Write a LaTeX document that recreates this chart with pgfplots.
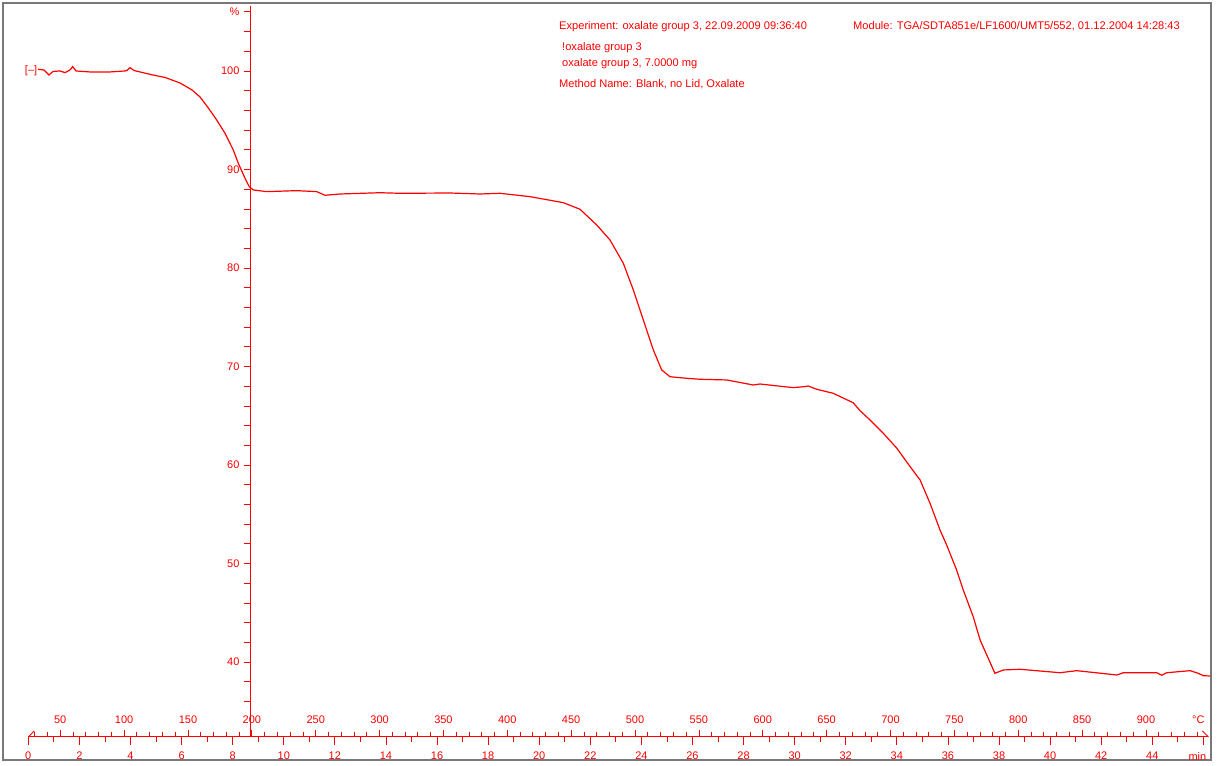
\documentclass[border=0pt]{standalone}
\usepackage{fontspec}
\setmainfont{Liberation Sans}
\usepackage{pgfplots}
\usepackage{pgfplotstable}
\pgfplotsset{compat=1.18}
\definecolor{tgared}{RGB}{255,0,0}
\definecolor{framegray}{RGB}{120,120,120}

% TGA curve: time (min) vs. weight (%)
\pgfplotstableread{
t w
0.380 100.17
0.615 100.10
0.810 99.59
0.967 99.95
1.241 100.00
1.437 99.83
1.632 100.10
1.738 100.44
1.867 100.00
2.415 99.90
3.198 99.90
3.785 100.00
3.864 100.05
3.981 100.34
4.138 100.05
4.373 99.90
4.882 99.59
5.352 99.34
5.939 98.78
6.409 98.07
6.722 97.36
7.035 96.29
7.374 95.03
7.700 93.68
8.024 91.98
8.221 90.63
8.483 89.11
8.651 88.25
8.808 87.92
9.332 87.75
10.507 87.85
11.290 87.75
11.615 87.38
12.203 87.51
13.769 87.64
14.551 87.58
16.508 87.61
17.683 87.51
18.466 87.58
19.640 87.24
20.944 86.63
21.597 85.96
22.251 84.37
22.772 82.84
23.292 80.48
23.684 77.77
24.075 74.72
24.467 71.68
24.796 69.64
25.121 68.96
25.775 68.80
26.296 68.70
27.340 68.63
28.381 68.12
28.644 68.22
29.948 67.85
30.448 67.97
30.530 68.02
30.857 67.69
31.507 67.28
32.290 66.32
32.560 65.51
32.950 64.57
33.470 63.22
34.000 61.70
34.520 59.83
34.910 58.48
35.300 56.11
35.690 53.40
35.950 51.88
36.340 49.34
36.600 47.31
36.990 44.60
37.260 42.23
37.840 38.85
38.170 39.19
38.820 39.26
40.390 38.91
41.040 39.12
42.610 38.68
42.870 38.91
44.170 38.91
44.370 38.65
44.570 38.91
45.480 39.12
45.800 38.85
46.000 38.61
46.260 38.58
}\tgacurve

\newcommand{\lbl}{\fontsize{11}{13}\selectfont}

\begin{document}
\begin{tikzpicture}[x=1pt,y=1pt]
\path[use as bounding box] (-3pt,-5pt) rectangle (1214pt,760pt);

% frame and curve
\begin{axis}[
    name=main, at={(0pt,0pt)}, anchor=south west,
    scale only axis, width=1208pt, height=757pt,
    xmin=-0.9904, xmax=46.299, ymin=30.05, ymax=106.90,
    xtick=\empty, ytick=\empty,
    axis line style={framegray, line width=1.6pt},
]
\addplot[tgared, line width=1.2pt] table[x=t, y=w] {\tgacurve};
\node[text=tgared, font=\lbl] at (axis cs:0.11,100.0) {[–]};
\end{axis}

% weight axis
\begin{axis}[
    at={(247pt,23pt)}, anchor=south west,
    scale only axis, width=1pt, height=731pt,
    xmin=0, xmax=1, ymin=32.39, ymax=106.60,
    hide x axis, axis y line=left,
    y axis line style={-, tgared, line width=1pt},
    tick align=outside,
    ytick={40,50,...,100}, minor ytick={36,38,...,106},
    extra y ticks={106}, extra y tick labels={\%},
    major tick length=6pt, minor tick length=6pt,
    tick style={tgared, line width=0.8pt},
    tick label style={text=tgared, font=\lbl},
    yticklabel shift=1pt,
    /pgf/number format/assume math mode=true,
]
\end{axis}

% time axis (min)
\begin{axis}[
    at={(25.3pt,23pt)}, anchor=south west,
    scale only axis, width=1180.2pt, height=1pt,
    xmin=0, xmax=46.2, ymin=0, ymax=1,
    hide y axis, axis x line=bottom,
    x axis line style={-, tgared, line width=1pt},
    tick align=outside,
    xtick={0,2,...,44}, minor xtick={1,3,...,45},
    extra x ticks={46}, extra x tick labels={min},
    extra x tick style={tick label style={xshift=-6pt}},
    major tick length=7.7pt, minor tick length=5pt,
    tick style={tgared, line width=0.8pt},
    tick label style={text=tgared, font=\lbl},
    xticklabel shift=4pt,
    /pgf/number format/assume math mode=true,
    clip=false,
]
\draw[tgared, line width=0.8pt] (axis cs:0,0) -- ++(6pt,6pt);
\draw[tgared, line width=0.8pt] (axis cs:46.2,0) -- ++(-6pt,6pt);
\end{axis}

% temperature axis (C)
\begin{axis}[
    at={(25.3pt,22pt)}, anchor=south west,
    scale only axis, width=1180.2pt, height=1pt,
    xmin=25, xmax=949, ymin=0, ymax=1,
    hide y axis, axis x line=top,
    x axis line style={-, draw=none},
    tick align=outside,
    xtick={50,100,...,900}, minor xtick={30,40,...,940},
    extra x ticks={941}, extra x tick labels={°C},
    extra x tick style={tick style={draw=none}},
    major tick length=7pt, minor tick length=5pt,
    tick style={tgared, line width=0.8pt},
    tick label style={text=tgared, font=\lbl},
    xticklabel shift=3pt,
    /pgf/number format/assume math mode=true,
]
\end{axis}

% header texts
\begin{scope}[every node/.style={text=tgared, inner sep=0pt, anchor=base west,
    font=\fontsize{11.1}{13}\selectfont}]
\node at (556,730) {Experiment: oxalate group 3, 22.09.2009 09:36:40};
\node at (559,709) {!oxalate group 3};
\node at (559,693) {oxalate group 3, 7.0000 mg};
\node at (556,672) {Method Name: Blank, no Lid, Oxalate};
\node at (850,730) {Module: TGA/SDTA851e/LF1600/UMT5/552, 01.12.2004 14:28:43};
\end{scope}
\end{tikzpicture}
\end{document}
